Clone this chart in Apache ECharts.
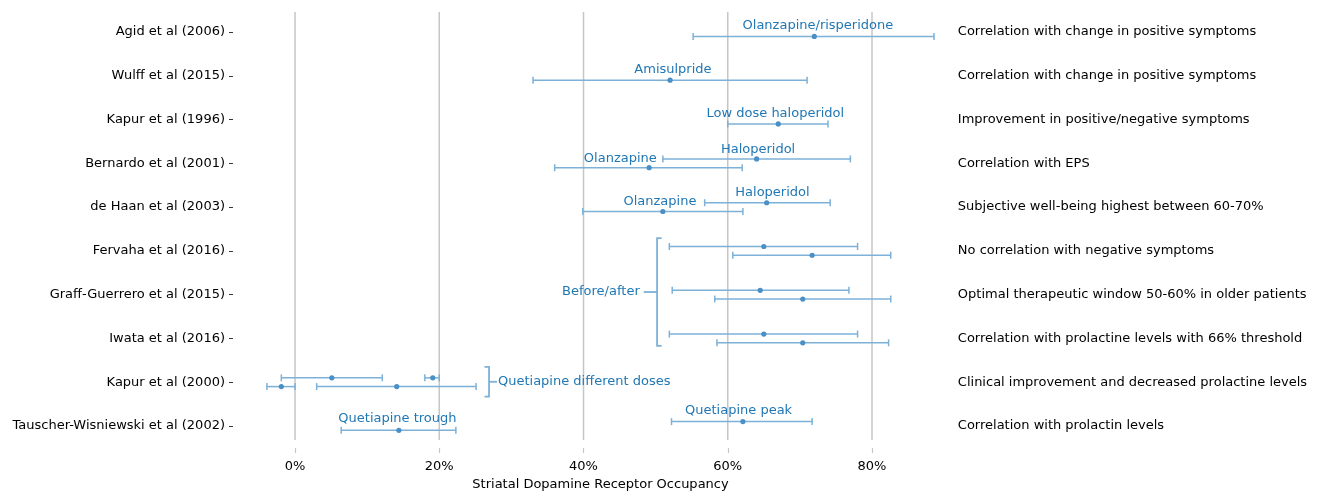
<!DOCTYPE html>
<html>
<head>
<meta charset="utf-8">
<script src="https://cdn.jsdelivr.net/npm/echarts@6/dist/echarts.min.js"></script>
<style>
  html, body { margin: 0; padding: 0; background: #ffffff; }
  #chart { width: 1324px; height: 493px; }
</style>
</head>
<body>
<div id="chart"></div>
<script>
// Studies (one row each, top to bottom) and the finding reported by each
const studies = [
  'Agid et al (2006)',
  'Wulff et al (2015)',
  'Kapur et al (1996)',
  'Bernardo et al (2001)',
  'de Haan et al (2003)',
  'Fervaha et al (2016)',
  'Graff-Guerrero et al (2015)',
  'Iwata et al (2016)',
  'Kapur et al (2000)',
  'Tauscher-Wisniewski et al (2002)'
];
const findings = [
  'Correlation with change in positive symptoms',
  'Correlation with change in positive symptoms',
  'Improvement in positive/negative symptoms',
  'Correlation with EPS',
  'Subjective well-being highest between 60-70%',
  'No correlation with negative symptoms',
  'Optimal therapeutic window 50-60% in older patients',
  'Correlation with prolactine levels with 66% threshold',
  'Clinical improvement and decreased prolactine levels',
  'Correlation with prolactin levels'
];

// Occupancy estimates (%): row index, lane within the row (-1 upper, +1 lower), mean and range
const barRow  = [0, 1, 2, 3, 3, 4, 4, 5, 5, 6, 6, 7, 7, 8, 8, 8, 8, 9, 9];
const barLane = [1, 1, 1, -1, 1, -1, 1, -1, 1, -1, 1, -1, 1, -1, -1, 1, 1, -1, 1];
const barMean = [72.0, 52.0, 67.0, 64.0, 49.1, 65.4, 51.0, 65.0, 71.7, 64.5, 70.4, 65.0, 70.4, 5.1, 19.1, -1.9, 14.1, 62.1, 14.4];
const barLow  = [55.2, 33.0, 60.0, 51.0, 36.0, 56.8, 39.9, 51.9, 60.7, 52.3, 58.2, 51.9, 58.5, -1.9, 18.0, -3.9, 3.0, 52.2, 6.4];
const barHigh = [88.6, 71.0, 73.9, 77.0, 62.0, 74.2, 62.1, 78.0, 82.6, 76.8, 82.6, 78.0, 82.3, 12.1, 20.0, 0.0, 25.1, 71.7, 22.3];

// Drug annotations, anchored in data units (occupancy %, row)
const noteText = ['Olanzapine/risperidone', 'Amisulpride', 'Low dose haloperidol', 'Haloperidol', 'Olanzapine',
                  'Haloperidol', 'Olanzapine', 'Quetiapine trough', 'Quetiapine peak'];
const noteX = [72.5, 52.4, 66.6, 64.2, 45.1, 66.2, 50.6, 14.2, 61.5];
const noteY = [-0.14, 0.87, 1.87, 2.68, 2.90, 3.66, 3.88, 8.84, 8.65];

// Group brackets: bracket position, row span, where the stub ends, and which way the hooks point
const bracketText = ['Before/after', 'Quetiapine different doses'];
const bracketX    = [50.2, 26.9];
const bracketFrom = [4.71, 7.65];
const bracketTo   = [7.17, 8.33];
const bracketStub = [48.35, 28.0];
const bracketHook = [1, -1];

// Axis ticks
const xTicks = [0, 20, 40, 60, 80];
const rowTicks = studies.map((_, i) => i);

const LANE = 0.1;
const FINDINGS_AT = 91.9;
const X_MIN = -7.63, X_MAX = 92.34;
const Y_MIN = -0.457, Y_MAX = 9.32;

const FONT = '13px "DejaVu Sans"';
const BLUE_TEXT = '#1f77b4';
const BLUE_LINE = '#7db1d8';
const BLUE_DOT = '#4a8fc5';
const GRID_GREY = '#c6c6c6';

const barData = barRow.map((r, i) => [barLow[i], barHigh[i], barMean[i], r + barLane[i] * LANE]);
const noteData = noteText.map((t, i) => [noteX[i], noteY[i]]);
const bracketData = bracketText.map((t, i) => [bracketX[i], bracketFrom[i], bracketTo[i], bracketStub[i], bracketHook[i]]);
const findingData = findings.map((t, i) => [FINDINGS_AT, i]);

const chart = echarts.init(document.getElementById('chart'), null, { renderer: 'canvas' });

chart.setOption({
  animation: false,
  backgroundColor: '#ffffff',
  textStyle: { fontFamily: 'DejaVu Sans' },
  grid: { left: 240, right: 363, top: 12, bottom: 53, containLabel: false, outerBoundsMode: 'none' },
  xAxis: {
    type: 'value',
    min: X_MIN,
    max: X_MAX,
    offset: 8,
    axisLine: { show: false, onZero: false },
    splitLine: { show: false },
    axisTick: { show: true, customValues: xTicks, length: 5, lineStyle: { color: GRID_GREY, width: 1.2 } },
    axisLabel: {
      customValues: xTicks,
      formatter: v => v + '%',
      fontSize: 13, color: '#000', margin: 12, fontFamily: 'DejaVu Sans'
    },
    name: 'Striatal Dopamine Receptor Occupancy',
    nameLocation: 'middle',
    nameGap: 29,
    nameTextStyle: { fontSize: 13, color: '#000', fontFamily: 'DejaVu Sans' }
  },
  yAxis: {
    type: 'value',
    inverse: true,
    min: Y_MIN,
    max: Y_MAX,
    offset: 7,
    axisLine: { show: false, onZero: false },
    splitLine: { show: false },
    axisTick: { show: true, customValues: rowTicks, length: 4, lineStyle: { color: '#333', width: 1 } },
    axisLabel: {
      customValues: rowTicks,
      formatter: v => studies[Math.round(v)] || '',
      fontSize: 13, color: '#000', margin: 8, fontFamily: 'DejaVu Sans'
    }
  },
  series: [
    {
      // vertical reference lines at the labelled occupancy ticks
      type: 'custom',
      silent: true,
      z: 1,
      data: xTicks.map(v => [v, 0]),
      encode: { x: 0, y: 1 },
      renderItem: (params, api) => {
        const cs = params.coordSys;
        const x = api.coord([api.value(0), 0])[0];
        return {
          type: 'line',
          shape: { x1: x, y1: cs.y, x2: x, y2: cs.y + cs.height },
          style: { stroke: GRID_GREY, lineWidth: 1.5 }
        };
      }
    },
    {
      // occupancy ranges with caps and a dot at the mean
      type: 'custom',
      silent: true,
      z: 3,
      data: barData,
      encode: { x: [0, 1, 2], y: 3 },
      renderItem: (params, api) => {
        const y = api.value(3);
        const lo = api.coord([api.value(0), y]);
        const hi = api.coord([api.value(1), y]);
        const m = api.coord([api.value(2), y]);
        const cap = 3.5;
        const lineStyle = { stroke: BLUE_LINE, lineWidth: 1.5 };
        return {
          type: 'group',
          children: [
            { type: 'line', shape: { x1: lo[0], y1: lo[1], x2: hi[0], y2: hi[1] }, style: lineStyle },
            { type: 'line', shape: { x1: lo[0], y1: lo[1] - cap, x2: lo[0], y2: lo[1] + cap }, style: lineStyle },
            { type: 'line', shape: { x1: hi[0], y1: hi[1] - cap, x2: hi[0], y2: hi[1] + cap }, style: lineStyle },
            { type: 'circle', shape: { cx: m[0], cy: m[1], r: 2.6 }, style: { fill: BLUE_DOT } }
          ]
        };
      }
    },
    {
      // drug annotations
      type: 'custom',
      silent: true,
      z: 4,
      data: noteData,
      encode: { x: 0, y: 1 },
      renderItem: (params, api) => {
        const p = api.coord([api.value(0), api.value(1)]);
        return {
          type: 'text',
          style: {
            text: noteText[params.dataIndex], x: p[0], y: p[1],
            fill: BLUE_TEXT, font: FONT, align: 'center', verticalAlign: 'middle'
          }
        };
      }
    },
    {
      // brackets grouping several ranges, with their labels
      type: 'custom',
      silent: true,
      z: 4,
      data: bracketData,
      encode: { x: [0, 3], y: [1, 2] },
      renderItem: (params, api) => {
        const bx = api.value(0);
        const top = api.coord([bx, api.value(1)]);
        const bot = api.coord([bx, api.value(2)]);
        const midY = (top[1] + bot[1]) / 2;
        const stub = api.coord([api.value(3), 0])[0];
        const dir = api.value(4);
        const hook = 4.5 * dir;
        const lineStyle = { stroke: BLUE_LINE, lineWidth: 1.8, fill: null };
        const textLeft = dir > 0;
        return {
          type: 'group',
          children: [
            {
              type: 'polyline',
              shape: { points: [[top[0] + hook, top[1]], [top[0], top[1]], [bot[0], bot[1]], [bot[0] + hook, bot[1]]] },
              style: lineStyle
            },
            { type: 'line', shape: { x1: top[0], y1: midY, x2: stub, y2: midY }, style: lineStyle },
            {
              type: 'text',
              style: {
                text: bracketText[params.dataIndex],
                x: textLeft ? stub - 4 : stub + 1, y: midY,
                fill: BLUE_TEXT, font: FONT,
                align: textLeft ? 'right' : 'left', verticalAlign: 'middle'
              }
            }
          ]
        };
      }
    },
    {
      // finding reported by each study, to the right of the plot
      type: 'custom',
      silent: true,
      z: 4,
      data: findingData,
      encode: { x: 0, y: 1 },
      renderItem: (params, api) => {
        const p = api.coord([api.value(0), api.value(1)]);
        return {
          type: 'text',
          style: {
            text: findings[params.dataIndex], x: p[0], y: p[1],
            fill: '#000', font: FONT, align: 'left', verticalAlign: 'middle'
          }
        };
      }
    }
  ]
});
</script>
</body>
</html>
